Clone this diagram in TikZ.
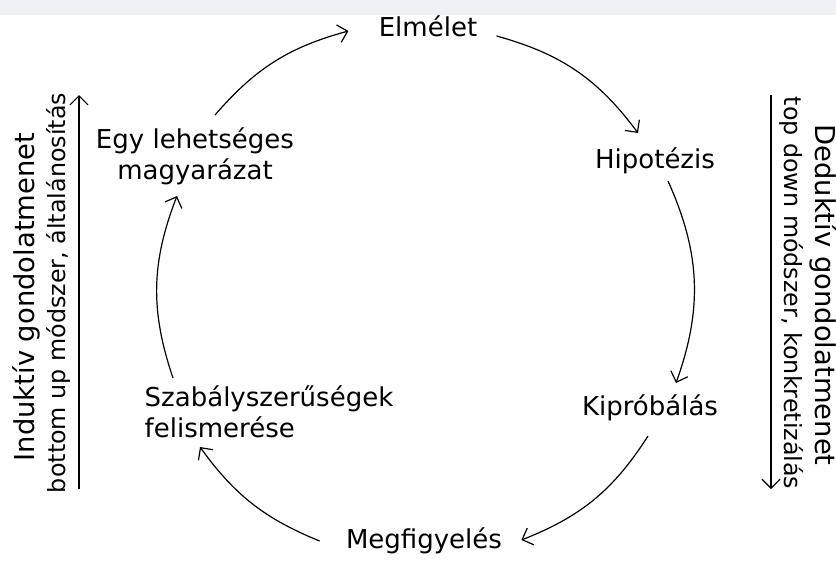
\documentclass[tikz,border=0pt]{standalone}
\usepackage{fontspec}
\setmainfont{DejaVu Sans}
\usetikzlibrary{arrows.meta}
\definecolor{stripgray}{RGB}{238,241,245}

\begin{document}
\begin{tikzpicture}[x=0.5pt, y=-0.5pt,
					>={Straight Barb[length=4.5pt,width=9pt]},
					phase/.style={inner sep=0pt, font=\fontsize{13}{15.3}\selectfont},
					sidebig/.style={inner sep=0pt, anchor=base, font=\fontsize{13.7}{16}\selectfont},
					sidesmall/.style={inner sep=0pt, anchor=base, font=\fontsize{11.9}{14}\selectfont},
					cycle/.style={line width=0.6pt, ->}
				]
				\useasboundingbox (0,0) rectangle (836,564);
				\fill[white] (0,0) rectangle (836,564);
				\fill[stripgray] (0,0) rectangle (836,15);
				% the six steps of the cycle
				\node[phase, anchor=base] (elmelet) at (428,36) {Elmélet};
				\node[phase, anchor=base] (hipotezis) at (655,168) {Hipotézis};
				\node[phase, anchor=base] (kiprobalas) at (650,415) {Kipróbálás};
				\node[phase, anchor=base] (megfigyeles) at (424,548) {Megfigyelés};
				\node[phase, align=left] (szabaly) at (269,412) {Szabályszerűségek\\felismerése};
				\node[phase, align=center] (egy) at (195,156) {Egy lehetséges\\magyarázat};
				% side labels
				\node[sidebig, rotate=90] (induktiv) at (34,297) {Induktív gondolatmenet};
				\node[sidesmall, rotate=90] (bottomup) at (65,293) {bottom up módszer, általánosítás};
				\node[sidebig, rotate=-90] (deduktiv) at (815,295) {Deduktív gondolatmenet};
				\node[sidesmall, rotate=-90] (topdown) at (784,293) {top down módszer, konkretizálás};
				\coordinate (indbot) at (79,489);
				\coordinate (indtop) at (79,95);
				\coordinate (dedtop) at (771,95);
				\coordinate (dedbot) at (771,489);
				\begin{scope}[line width=0.6pt]
				\draw[->] (indbot) -- (indtop);
				\draw[->] (dedtop) -- (dedbot);
				\end{scope}
				\begin{scope}[cycle]
				\draw ([shift={(20,-41)}]egy.center) to[bend left=17] ([shift={(-30,-5)}]elmelet.base west);
				\draw ([shift={(19,0)}]elmelet.base east) to[bend left=19] ([shift={(-17,-35)}]hipotezis.base);
				\draw ([shift={(13,13)}]hipotezis.base) to[bend left=22] ([shift={(26,-32)}]kiprobalas.base);
				\draw ([shift={(-2,21)}]kiprobalas.base) to[bend left=18] ([shift={(19,-8)}]megfigyeles.base east);
				\draw ([shift={(-26,-7)}]megfigyeles.base west) to[bend left=16] ([shift={(-69,35)}]szabaly.center);
				\draw ([shift={(-96,-34)}]szabaly.center) to[bend left=20] ([shift={(-18,40)}]egy.center);
				\end{scope}
				\end{tikzpicture}
\end{document}
